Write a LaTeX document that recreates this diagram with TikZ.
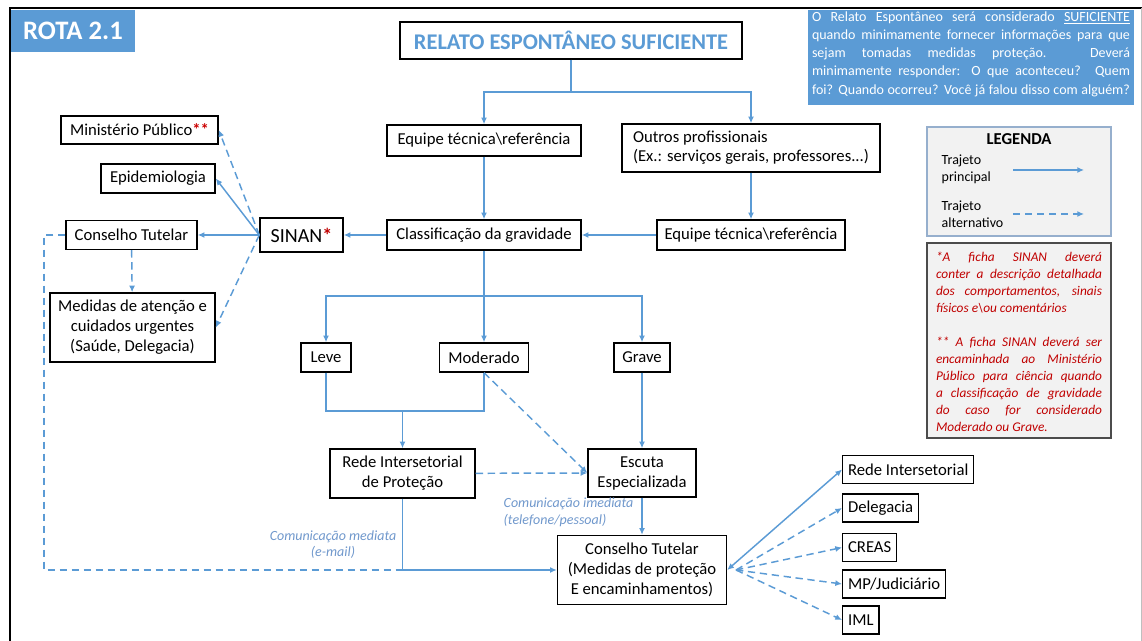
\documentclass[tikz,border=0pt]{standalone}
\usepackage{fontspec}
\setmainfont{Carlito}
\usepackage{tikz}
\usepackage{xcolor}
\usetikzlibrary{arrows.meta}

\definecolor{rotablue}{RGB}{91,155,213}
\definecolor{notered}{RGB}{192,0,0}
\definecolor{labelblue}{RGB}{112,152,204}
\definecolor{legendline}{RGB}{150,175,205}

\newcommand{\fitline}[2]{\makebox[#1][s]{#2}}

\begin{document}
\begin{tikzpicture}[x=0.75pt,y=-0.75pt,
  box/.style={draw, line width=1.1pt, fill=white, align=center, inner xsep=1pt, inner ysep=2pt,
    font=\fontsize{12.5}{15}\selectfont},
  flow/.style={draw=rotablue, line width=1.1pt, -{Latex[length=5pt,width=4.5pt]}},
  alt/.style={flow, dash pattern=on 5.5pt off 3.5pt},
  wire/.style={draw=rotablue, line width=1.1pt},
  altwire/.style={wire, dash pattern=on 5.5pt off 3.5pt},
  note/.style={font=\fontsize{10.5}{12.5}\selectfont\itshape, text=labelblue}]
                \useasboundingbox (0,0) rectangle (1142,641);
                % frame and tab
                \draw[line width=1.6pt] (10,641) -- (10,8) -- (1142,8);
                \draw[black!25] (1141,8) -- (1141,641);
                \fill[rotablue] (11,10) rectangle (135,52);
                \node[text=white, font=\fontsize{20}{24}\selectfont\bfseries] (rota) at (73,31) {ROTA 2.1};
                % info box
                \fill[rotablue] (808,10) rectangle (1134,105);
                \node[text=white, font=\fontsize{10.5}{13.7}\selectfont, inner sep=0pt, align=left] (info) at (971,54) {%
                  \fitline{238.5pt}{O Relato Espontâneo será considerado \underline{SUFICIENTE}}\\
                  \fitline{238.5pt}{quando minimamente fornecer informações para que}\\
                  \fitline{238.5pt}{sejam tomadas medidas proteção. Deverá}\\
                  \fitline{238.5pt}{minimamente responder: O que aconteceu? Quem}\\
                  \fitline{238.5pt}{foi? Quando ocorreu? Você já falou disso com alguém?}};
                % legend
                \draw[legendline, fill=black!5, line width=1pt] (927,127) rectangle (1111,236);
                \node[font=\fontsize{12.5}{14}\selectfont\bfseries] (legtitle) at (1019,139) {LEGENDA};
                \node[anchor=west, align=left, font=\fontsize{10.5}{12.75}\selectfont] (legmain) at (937,169.5) {Trajeto\\principal};
                \node[anchor=west, align=left, font=\fontsize{10.5}{12.75}\selectfont] (legalt) at (937,214.5) {Trajeto\\alternativo};
                \coordinate (lm1) at (1013,170);
                \coordinate (lm2) at (1084,170);
                \coordinate (la1) at (1013,214);
                \coordinate (la2) at (1084,214);
                \draw[flow] (lm1) -- (lm2);
                \draw[alt] (la1) -- (la2);
                % notes on SINAN
                \draw[black!70, fill=black!5, line width=1pt] (927,243) rectangle (1111,438);
                \node[text=notered, font=\fontsize{10}{12.75}\selectfont\itshape, inner sep=0pt, align=left] (obs) at (1019,342) {%
                  \fitline{124.5pt}{*A ficha SINAN deverá}\\
                  \fitline{124.5pt}{conter a descrição detalhada}\\
                  \fitline{124.5pt}{dos comportamentos, sinais}\\
                  físicos e\textbackslash ou comentários\\
                  \mbox{}\\
                  \fitline{124.5pt}{** A ficha SINAN deverá ser}\\
                  \fitline{124.5pt}{encaminhada ao Ministério}\\
                  \fitline{124.5pt}{Público para ciência quando}\\
                  \fitline{124.5pt}{a classificação de gravidade}\\
                  \fitline{124.5pt}{do caso for considerado}\\
                  Moderado ou Grave.};
                % boxes
                \node[box, minimum width=256.5pt, minimum height=27.75pt, text=rotablue, font=\fontsize{16.8}{19}\selectfont\bfseries] (title) at (571,40.5) {RELATO ESPONTÂNEO SUFICIENTE};
                \node[box, minimum width=145.5pt, minimum height=23.25pt] (eq1) at (484,140.5) {Equipe técnica\textbackslash referência};
                \node[box, minimum width=193.5pt, minimum height=36pt, align=left, font=\fontsize{12.5}{14}\selectfont] (outros) at (751,148) {Outros profissionais\\(Ex.: serviços gerais, professores...)};
                \node[box, minimum width=145.5pt, minimum height=22.5pt] (classif) at (484,235) {Classificação da gravidade};
                \node[box, minimum width=141pt, minimum height=22.5pt] (eq2) at (751,235) {Equipe técnica\textbackslash referência};
                \node[box, minimum width=62.25pt, minimum height=25.5pt, font=\fontsize{15}{18}\selectfont] (sinan) at (301.5,235) {SINAN\textcolor{notered}{\textbf{*}}};
                \node[box, minimum width=117.75pt, minimum height=21pt] (mp) at (139.5,130) {Ministério Público\textcolor{red!80!black}{\textbf{**}}};
                \node[box, minimum width=85.5pt, minimum height=21.75pt] (epi) at (158,178.5) {Epidemiologia};
                \node[box, minimum width=98.25pt, minimum height=21.75pt] (ct1) at (131.5,235) {Conselho Tutelar};
                \node[box, minimum width=123.75pt, minimum height=51.75pt] (med) at (132.5,327.5) {Medidas de atenção e\\cuidados urgentes\\(Saúde, Delegacia)};
                \node[box, minimum width=37.5pt, minimum height=21.75pt] (leve) at (326,357.5) {Leve};
                \node[box, minimum width=66.75pt, minimum height=21.75pt] (mod) at (484,357.5) {Moderado};
                \node[box, minimum width=42pt, minimum height=21.75pt] (grave) at (642,357.5) {Grave};
                \node[box, minimum width=108.75pt, minimum height=36.75pt] (rede) at (402.5,473.5) {Rede Intersetorial\\de Proteção};
                \node[box, minimum width=81pt, minimum height=36pt] (escuta) at (642,473) {Escuta\\Especializada};
                \node[box, minimum width=126.75pt, minimum height=51.75pt] (ct2) at (642,570) {Conselho Tutelar\\(Medidas de proteção\\E encaminhamentos)};
                \node[box, anchor=west, minimum height=21pt, inner xsep=4pt] (redeint) at (842,469.5) {Rede Intersetorial};
                \node[box, anchor=west, minimum height=21pt, inner xsep=4pt] (deleg) at (842,508) {Delegacia};
                \node[box, anchor=west, minimum height=21pt, inner xsep=4pt] (creas) at (842,547.5) {CREAS};
                \node[box, anchor=west, minimum height=21pt, inner xsep=4pt] (mpjud) at (842,584) {MP/Judiciário};
                \node[box, anchor=west, minimum height=21pt, inner xsep=4pt] (iml) at (842,620) {IML};
                % labels
                \node[note, anchor=west, align=left] (imediata) at (499,512) {Comunicação imediata\\(telefone/pessoal)};
                \node[note, align=center] (mediata) at (333,544.5) {Comunicação mediata\\(e-mail)};
                % connectors
                \coordinate (split1) at (571,92);
                \coordinate (split2) at (484,296);
                \coordinate (join) at (402.5,411);
                \coordinate (ctdown) at (44,570);
                \coordinate (merge) at (402.5,570);
                \coordinate (fan) at (736,570);
                \draw[wire] (title) -- (split1);
                \draw[flow] (split1) -| (eq1);
                \draw[flow] (split1) -| (outros);
                \draw[flow] (eq1) -- (classif);
                \draw[flow] (outros) -- (eq2);
                \draw[flow] (eq2) -- (classif);
                \draw[flow] (classif) -- (sinan);
                \draw[flow] (sinan.west) -- (ct1);
                \draw[flow] (sinan.west) -- (epi.east);
                \draw[alt] (sinan.west) -- (mp.east);
                \draw[alt] (sinan.west) -- (med.east);
                \draw[alt] (ct1) -- (med);
                \draw[altwire] (ct1.west) -| (ctdown) -- (merge);
                \draw[flow] (classif) -- (mod);
                \draw[flow] (split2) -| (leve);
                \draw[flow] (split2) -| (grave);
                \draw[wire] (leve) |- (join) -| (mod);
                \draw[flow] (join) -- (rede);
                \draw[flow] (grave) -- (escuta);
                \draw[alt] (mod.south) -- (escuta.west);
                \draw[alt] (rede) -- (escuta.west);
                \draw[flow] (escuta) -- (ct2);
                \draw[flow] (rede) |- (ct2);
                \draw[flow, {Latex[length=5pt,width=4.5pt]}-{Latex[length=5pt,width=4.5pt]}] (ct2.east) -- (redeint.west);
                \draw[alt] (fan) -- (deleg.west);
                \draw[alt] (fan) -- (creas.west);
                \draw[alt] (fan) -- (mpjud.west);
                \draw[alt] (fan) -- (iml.west);
            \end{tikzpicture}
\end{document}
